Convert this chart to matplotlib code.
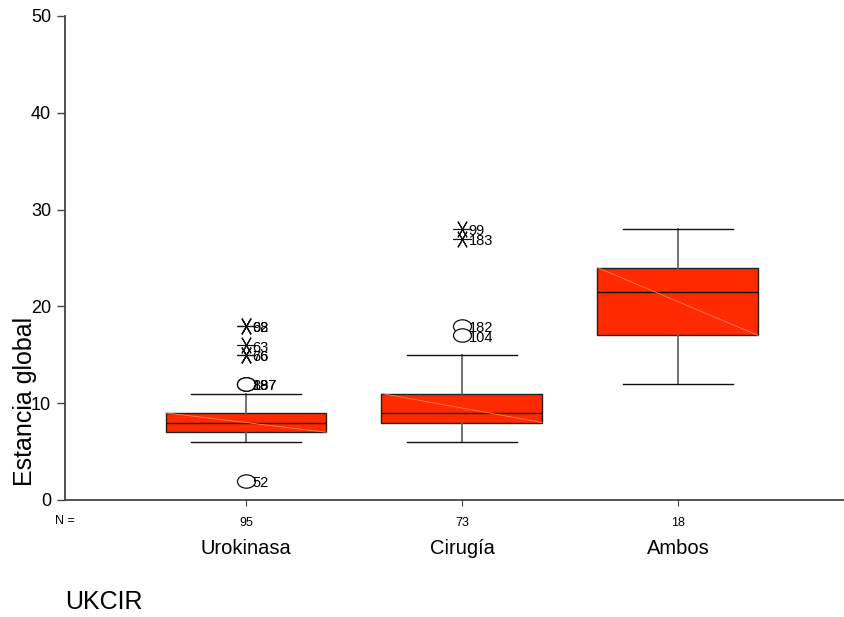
import numpy as np
import matplotlib.pyplot as plt
from matplotlib.path import Path
from matplotlib.transforms import Affine2D
import matplotlib.transforms as mtransforms

# datos (estancia global por UKCIR)
categorias = ["Urokinasa", "Cirugía", "Ambos"]
n_casos = [95, 73, 18]
medianas = [8, 9, 21.5]
q1 = [7, 8, 17]
q3 = [9, 11, 24]
bigote_inf = [6, 6, 12]
bigote_sup = [11, 15, 28]

# atipicos (circulos): grupo, valor, etiqueta
atip_grupo = [0, 0, 0, 0, 1, 1]
atip_valor = [12, 12, 12, 2, 18, 17]
atip_etiq = ["88", "187", "197", "52", "182", "104"]

# extremos (asteriscos)
ext_grupo = [0, 0, 0, 0, 0, 1, 1]
ext_valor = [18, 18, 16, 15, 15, 28, 27]
ext_etiq = ["92", "68", "63", "66", "76", "99", "183"]

fuente = ["Liberation Sans", "DejaVu Sans"]
plt.rcParams['font.family'] = fuente

fig = plt.figure(figsize=(8.45, 6.17), dpi=100)
ax = fig.add_axes([65/845, 1-500/617, 1-65/845+0.02, 484/617])

pos = np.arange(1, len(categorias)+1)
stats = []
for i in range(len(categorias)):
    stats.append(dict(med=medianas[i], q1=q1[i], q3=q3[i],
                      whislo=bigote_inf[i], whishi=bigote_sup[i], fliers=[]))

ax.bxp(stats, positions=pos, widths=0.745, patch_artist=True, showfliers=False,
       boxprops=dict(facecolor="#ff2a00", edgecolor="#222222", linewidth=1.0),
       medianprops=dict(color="#111111", linewidth=1.0),
       whiskerprops=dict(color="#666666", linewidth=1.3),
       capprops=dict(color="#111111", linewidth=1.0),
       capwidths=0.51)

# linea clara en diagonal dentro de cada caja
for i, p in enumerate(pos):
    ax.plot([p-0.372, p+0.372], [q3[i], q1[i]], color="#ff8060", lw=0.6, zorder=3)

# marcador eliptico para atipicos
elipse = Path.unit_circle().transformed(Affine2D().scale(1.35, 1.0))
for g, v, t in zip(atip_grupo, atip_valor, atip_etiq):
    ax.plot(pos[g], v, marker=elipse, markersize=13, markerfacecolor="white",
            markeredgecolor="#111111", markeredgewidth=0.9, zorder=4)
    ax.text(pos[g]+0.03, v-0.25, t, fontsize=10.5, va="center", ha="left",
            zorder=5)

for g, v, t in zip(ext_grupo, ext_valor, ext_etiq):
    ax.plot(pos[g], v, marker=(6, 2, 30), markersize=13, color="#111111",
            markeredgewidth=0.8, zorder=4)
    ax.text(pos[g]+0.03, v-0.25, t, fontsize=10.5, va="center", ha="left",
            zorder=5)

ax.set_xlim(0.162, 3.852)
ax.set_ylim(0, 50)
ax.set_yticks([0, 10, 20, 30, 40, 50])
ax.tick_params(axis="y", labelsize=13, length=6, width=1, color="#444444", pad=4)
ax.set_xticks(pos)
ax.set_xticklabels([str(n) for n in n_casos], fontsize=9)
ax.tick_params(axis="x", length=4, width=0.8, color="#444444", pad=8)
ax.spines["top"].set_visible(False)
ax.spines["right"].set_visible(False)
ax.spines["left"].set_color("#444444")
ax.spines["bottom"].set_color("#444444")
ax.spines["left"].set_linewidth(1.3)
ax.spines["bottom"].set_linewidth(1.3)

trans = mtransforms.blended_transform_factory(ax.transData, ax.transAxes)
ax.text(0.0, -0.043, "N =", transform=ax.transAxes, ha="center", va="center",
        fontsize=9)
for p, c in zip(pos, categorias):
    ax.text(p, -0.10, c, transform=trans, ha="center", va="center",
            fontsize=14.5)

fig.text(25/845, 1-401/617, "Estancia global", rotation=90, ha="center",
         va="center", fontsize=18)
fig.text(65/845, 1-602/617, "UKCIR", ha="left", va="center", fontsize=18)

fig.savefig("out.png", dpi=100)
